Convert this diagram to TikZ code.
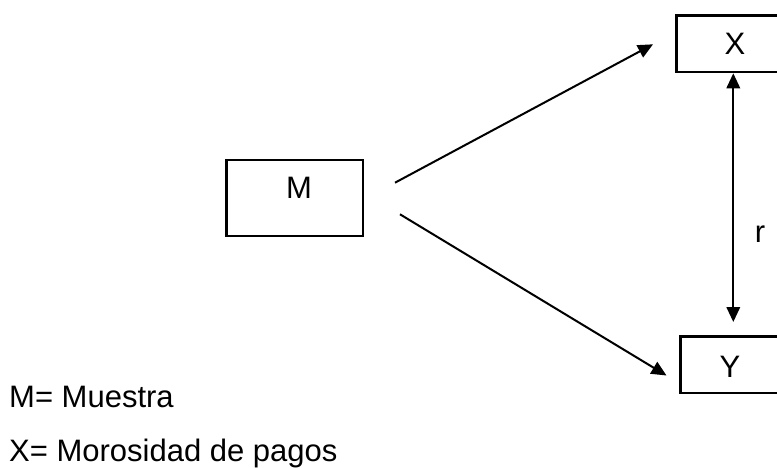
\documentclass[tikz,border=0pt]{standalone}
\usepackage{fontspec}
\setmainfont{Liberation Sans}
\usetikzlibrary{arrows.meta}
\begin{document}
\begin{tikzpicture}[x=1pt,y=-1pt,
  box/.style={draw,line width=2.5pt,inner sep=0pt,anchor=north west},
  lbl/.style={inner sep=0pt,anchor=base,font=\fontsize{31}{37}\selectfont},
  leg/.style={inner sep=0pt,anchor=base west,font=\fontsize{31}{37}\selectfont},
  arr/.style={line width=2pt,-{Triangle[length=15pt,width=13.5pt]}},
  darr/.style={line width=2pt,{Triangle[length=15pt,width=13.5pt]}-{Triangle[length=15pt,width=13.5pt]}}]
\useasboundingbox (0,0) rectangle (777,468);
\clip (0,0) rectangle (777,468);
% boxes
\node[box,minimum width=136.5pt,minimum height=76pt] (m) at (225.3,158.6) {};
\node[box,minimum width=125pt,minimum height=56.5pt] (x) at (675,14.3) {};
\node[box,minimum width=125pt,minimum height=56.5pt] (y) at (679.3,335.3) {};
% box texts
\node[lbl] (mt) at (299,198.5) {M};
\node[lbl] (xt) at (735,55) {X};
\node[lbl] (yt) at (730,377) {Y};
% connector end points
\coordinate (a1s) at (395,182.7);
\coordinate (a1e) at (653,44.3);
\coordinate (a2s) at (400,214.3);
\coordinate (a2e) at (666.5,375.5);
\coordinate (v1) at (733.3,73.3);
\coordinate (v2) at (733.3,322);
\draw[arr] (a1s) -- (a1e);
\draw[arr] (a2s) -- (a2e);
\draw[darr] (v1) -- (v2);
\node[lbl] (r) at (760,242) {r};
% legend
\node[leg] (l1) at (9,407) {M= Muestra};
\node[leg] (l2) at (9,461) {X= Morosidad de pagos};
\end{tikzpicture}
\end{document}
